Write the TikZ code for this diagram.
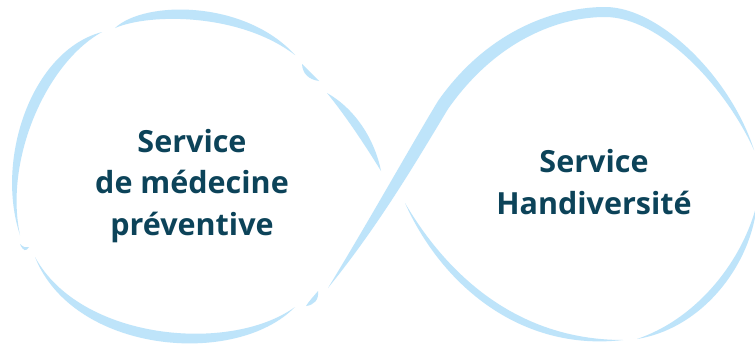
\documentclass[tikz,border=0pt]{standalone}
\usepackage{fontspec}
\setmainfont{Open Sans}
\usetikzlibrary{calc}
\definecolor{brushblue}{RGB}{190,228,250}
\definecolor{textteal}{RGB}{12,67,89}
% tapered brush stroke: start, control1, control2, end, offset1, offset2
\newcommand{\brushstroke}[6]{%
  \fill[brushblue] #1 .. controls #2 and #3 .. #4
     .. controls ($#3+#6$) and ($#2+#5$) .. #1 -- cycle;}
\begin{document}
\begin{tikzpicture}[x=1pt,y=-1pt,
  servicetext/.style={text=textteal, align=center, inner sep=0pt,
    font=\fontsize{30.5}{41.5}\selectfont\bfseries}]
\useasboundingbox (0,0) rectangle (755,348);
\fill[white] (0,0) rectangle (755,348);
% ---- left loop ----
\brushstroke{(115,28)}{(150,13)}{(240,13)}{(295,55)}{(-5,-13)}{(5,-13)}
\brushstroke{(102,32)}{(46,63)}{(4,160)}{(20,235)}{(-15,-12)}{(-9,0)}
\brushstroke{(20,244)}{(23,247)}{(26,248)}{(29,247)}{(0,4)}{(0,4)}
\brushstroke{(35,257)}{(80,340)}{(230,354)}{(295,307)}{(-7,13)}{(5,14)}
\brushstroke{(306,306)}{(309,301)}{(314,296)}{(318,291)}{(5,4)}{(5,4)}
\brushstroke{(302,64)}{(307,69)}{(313,75)}{(319,81)}{(-4.5,4.5)}{(-4.5,4.5)}
\brushstroke{(327,93)}{(345,115)}{(365,145)}{(381,171)}{(9.5,-6.5)}{(9.5,-6.5)}
% ---- main crossing stroke into right loop top ----
\fill[brushblue] (328,288) .. controls (370,219) and (409,149) .. (438,101)
   .. controls (490,27) and (560,7) .. (605,7)
   .. controls (660,7) and (731,78) .. (754,150)
   .. controls (725,86) and (660,17) .. (605,17)
   .. controls (560,17) and (497,39) .. (448,109)
   .. controls (419,157) and (380,224) .. (328,288) -- cycle;
% ---- right loop lower part ----
\brushstroke{(757,203)}{(744,258)}{(699,318)}{(637,339)}{(8,5)}{(5,10)}
\brushstroke{(405,203)}{(449,278)}{(520,340)}{(623,340)}{(-8,6)}{(0,12)}
% ---- texts ----
\node[servicetext] (prevention) at (192,186) {Service\\de médecine\\préventive};
\node[servicetext] (handi) at (594,182) {Service\\Handiversité};
\end{tikzpicture}
\end{document}
